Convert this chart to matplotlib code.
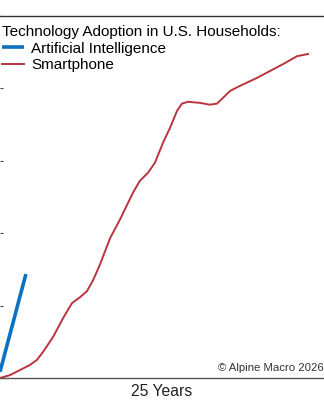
import matplotlib
matplotlib.use("Agg")
from matplotlib import pyplot as plt

plt.rcParams['font.family'] = ['Liberation Sans', 'DejaVu Sans']

# Годы от начала распространения и доля домохозяйств (%)
ai_years = [0.0, 0.5, 1.0, 1.5, 2.0]
ai_share = [1.7, 8.5, 15.2, 22.0, 28.7]

phone_years = [0.0, 0.77, 1.54, 2.31, 2.85, 3.32, 4.09, 4.86, 5.56, 6.17,
               6.71, 7.18, 7.72, 8.49, 9.26, 10.26, 10.80, 11.42, 11.96,
               12.58, 13.12, 13.66, 14.04, 14.51, 15.43, 16.20, 16.74,
               17.21, 17.75, 18.52, 19.83, 20.83, 21.99, 22.92, 23.77]
phone_share = [0.0, 0.8, 2.2, 3.6, 5.0, 7.2, 11.3, 16.5, 20.7, 22.3,
               24.0, 27.0, 31.4, 38.6, 43.8, 51.2, 54.5, 56.7, 59.5,
               65.0, 69.1, 73.8, 75.8, 76.3, 76.0, 75.5, 75.8,
               77.4, 79.3, 80.7, 82.9, 84.8, 87.0, 88.9, 89.5]

y_ticks = [0, 20, 40, 60, 80, 100]


def main():
    fig = plt.figure(figsize=(3.24, 4.0), dpi=100)
    ax = fig.add_axes([0.0, 0.055, 1.0, 0.905])

    ax.plot(ai_years, ai_share, color='#0b72c1', lw=2.6,
            solid_capstyle='butt', label='Artificial Intelligence')
    ax.plot(phone_years, phone_share, color='#b83540', lw=1.4,
            solid_joinstyle='round', label='Smartphone')

    ax.set_xlim(0, 25)
    ax.set_ylim(0, 100)
    ax.set_xticks([])
    ax.set_yticks(y_ticks)
    ax.tick_params(axis='y', direction='in', length=2.5, width=0.8,
                   color='#444444', labelleft=False)

    for side in ['left', 'right']:
        ax.spines[side].set_visible(False)
    ax.spines['bottom'].set_color('#555555')
    ax.spines['top'].set_color('#333333')
    ax.spines['bottom'].set_linewidth(1.0)
    ax.spines['top'].set_linewidth(1.0)

    ax.set_xlabel('25 Years', fontsize=11.3, color='#222222', labelpad=4)

    ax.legend(title='Technology Adoption in U.S. Households:',
              loc='upper left', bbox_to_anchor=(0.006, 0.975),
              frameon=False, fontsize=11.0, title_fontsize=11.0,
              alignment='left', handlelength=1.45, handletextpad=0.45,
              labelspacing=0.17, borderaxespad=0.0, borderpad=0.0)

    ax.text(0.998, 0.015, '© Alpine Macro 2026', transform=ax.transAxes,
            ha='right', va='bottom', fontsize=8.2, color='#333333')

    fig.savefig('out.png', dpi=100)


if __name__ == '__main__':
    main()
